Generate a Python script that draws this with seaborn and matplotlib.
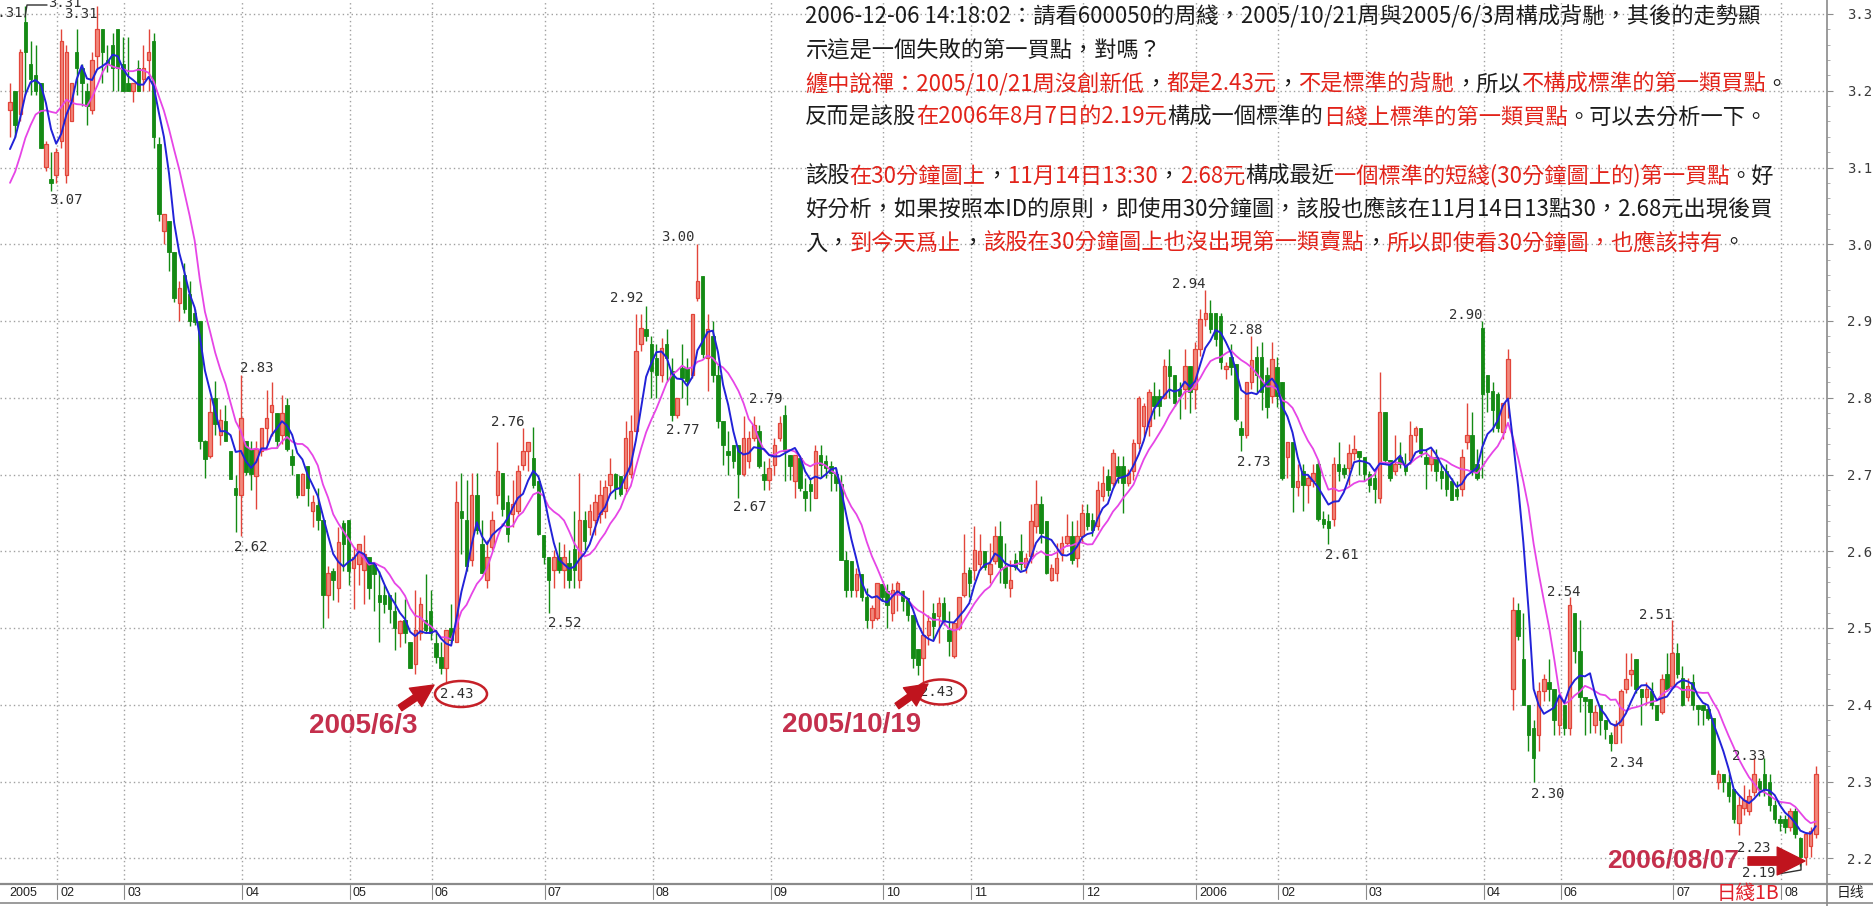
#600050 daily candlestick chart (2005-01 .. 2006-08) with MA5 / MA10 and annotation text
import numpy as np
import pandas as pd
import matplotlib
matplotlib.use("Agg")
import matplotlib.pyplot as plt
import seaborn as sns
from matplotlib.patches import Ellipse
from matplotlib.lines import Line2D
from matplotlib.ticker import MultipleLocator, FormatStrFormatter

# ---------------- data ----------------
opens = [3.175, 3.20, 3.17, 3.29, 3.235, 3.22, 3.21, 3.10, 3.085, 3.09,
         3.135, 3.09, 3.16, 3.25, 3.23, 3.20, 3.175, 3.245, 3.28, 3.24,
         3.26, 3.28, 3.235, 3.21, 3.20, 3.23, 3.215, 3.24, 3.265, 3.13,
         3.017, 3.03, 2.99, 2.924, 2.96, 2.935, 2.91, 2.90, 2.743, 2.724,
         2.80, 2.752, 2.77, 2.731, 2.682, 2.673, 2.743, 2.733, 2.698, 2.731,
         2.761, 2.782, 2.78, 2.752, 2.79, 2.724, 2.70, 2.673, 2.711, 2.652,
         2.66, 2.641, 2.543, 2.574, 2.552, 2.637, 2.641, 2.578, 2.583, 2.576,
         2.592, 2.583, 2.543, 2.543, 2.543, 2.522, 2.493, 2.511, 2.482, 2.453,
         2.493, 2.511, 2.522, 2.48, 2.462, 2.448, 2.50, 2.482, 2.652, 2.641,
         2.588, 2.673, 2.61, 2.563, 2.605, 2.673, 2.702, 2.664, 2.648, 2.653,
         2.713, 2.731, 2.722, 2.691, 2.621, 2.592, 2.576, 2.592, 2.576, 2.585,
         2.603, 2.563, 2.641, 2.632, 2.641, 2.648, 2.652, 2.686, 2.70, 2.698,
         2.683, 2.70, 2.757, 2.87, 2.889, 2.87, 2.852, 2.83, 2.87, 2.835,
         2.778, 2.839, 2.839, 2.83, 2.93, 2.959, 2.852, 2.88, 2.83, 2.77,
         2.73, 2.739, 2.739, 2.70, 2.717, 2.748, 2.757, 2.70, 2.693, 2.713,
         2.748, 2.778, 2.726, 2.691, 2.722, 2.678, 2.687, 2.67, 2.726, 2.717,
         2.711, 2.70, 2.687, 2.589, 2.587, 2.55, 2.57, 2.541, 2.511, 2.513,
         2.557, 2.548, 2.52, 2.548, 2.548, 2.539, 2.517, 2.472, 2.461, 2.491,
         2.52, 2.515, 2.533, 2.498, 2.463, 2.50, 2.543, 2.576, 2.576, 2.584,
         2.60, 2.57, 2.587, 2.62, 2.58, 2.552, 2.589, 2.60, 2.58, 2.594,
         2.633, 2.661, 2.639, 2.563, 2.572, 2.598, 2.611, 2.62, 2.591, 2.62,
         2.65, 2.641, 2.633, 2.672, 2.698, 2.689, 2.711, 2.711, 2.689, 2.705,
         2.741, 2.763, 2.763, 2.802, 2.802, 2.80, 2.841, 2.83, 2.811, 2.811,
         2.841, 2.811, 2.863, 2.902, 2.911, 2.911, 2.907, 2.837, 2.853, 2.844,
         2.76, 2.751, 2.821, 2.853, 2.853, 2.83, 2.802, 2.84, 2.821, 2.723,
         2.742, 2.684, 2.705, 2.686, 2.691, 2.714, 2.642, 2.64, 2.642, 2.714,
         2.709, 2.709, 2.728, 2.73, 2.723, 2.70, 2.695, 2.67, 2.781, 2.719,
         2.705, 2.723, 2.714, 2.719, 2.751, 2.76, 2.723, 2.714, 2.723, 2.705,
         2.705, 2.691, 2.681, 2.681, 2.742, 2.751, 2.714, 2.891, 2.83, 2.809,
         2.805, 2.756, 2.80, 2.421, 2.523, 2.46, 2.40, 2.37, 2.36, 2.418,
         2.43, 2.42, 2.373, 2.40, 2.37, 2.52, 2.47, 2.41, 2.408, 2.373,
         2.40, 2.38, 2.36, 2.35, 2.373, 2.42, 2.44, 2.46, 2.42, 2.41,
         2.418, 2.40, 2.39, 2.44, 2.425, 2.468, 2.435, 2.41, 2.43, 2.40,
         2.40, 2.395, 2.383, 2.30, 2.31, 2.30, 2.29, 2.246, 2.266, 2.261,
         2.286, 2.30, 2.31, 2.30, 2.27, 2.251, 2.251, 2.241, 2.261, 2.226,
         2.201, 2.216, 2.231]

highs = [3.21, 3.20, 3.255, 3.31, 3.265, 3.26, 3.21, 3.135, 3.12, 3.125,
         3.28, 3.26, 3.21, 3.28, 3.235, 3.21, 3.25, 3.31, 3.28, 3.26,
         3.275, 3.28, 3.27, 3.27, 3.21, 3.24, 3.26, 3.28, 3.275, 3.14,
         3.04, 3.03, 2.99, 2.952, 2.975, 2.952, 2.915, 2.90, 2.745, 2.80,
         2.822, 2.785, 2.79, 2.731, 2.70, 2.83, 2.743, 2.743, 2.743, 2.761,
         2.81, 2.82, 2.78, 2.803, 2.80, 2.733, 2.70, 2.702, 2.711, 2.673,
         2.682, 2.641, 2.581, 2.578, 2.632, 2.641, 2.641, 2.605, 2.61, 2.621,
         2.592, 2.583, 2.574, 2.556, 2.543, 2.547, 2.511, 2.538, 2.482, 2.549,
         2.54, 2.57, 2.549, 2.498, 2.482, 2.498, 2.531, 2.691, 2.702, 2.693,
         2.702, 2.702, 2.641, 2.615, 2.652, 2.742, 2.702, 2.673, 2.693, 2.713,
         2.76, 2.742, 2.762, 2.691, 2.621, 2.592, 2.601, 2.612, 2.61, 2.601,
         2.652, 2.702, 2.652, 2.661, 2.675, 2.693, 2.693, 2.722, 2.702, 2.698,
         2.77, 2.778, 2.909, 2.909, 2.92, 2.88, 2.87, 2.878, 2.889, 2.852,
         2.80, 2.87, 2.852, 2.909, 3.00, 2.959, 2.909, 2.90, 2.843, 2.77,
         2.757, 2.739, 2.739, 2.776, 2.757, 2.776, 2.765, 2.717, 2.722, 2.748,
         2.776, 2.79, 2.726, 2.726, 2.722, 2.696, 2.696, 2.739, 2.739, 2.726,
         2.717, 2.709, 2.70, 2.60, 2.587, 2.578, 2.57, 2.552, 2.53, 2.559,
         2.557, 2.557, 2.559, 2.561, 2.548, 2.539, 2.517, 2.472, 2.55, 2.517,
         2.533, 2.541, 2.541, 2.522, 2.507, 2.541, 2.622, 2.58, 2.633, 2.622,
         2.60, 2.611, 2.633, 2.639, 2.611, 2.589, 2.598, 2.622, 2.598, 2.661,
         2.693, 2.672, 2.639, 2.583, 2.611, 2.62, 2.648, 2.639, 2.641, 2.661,
         2.661, 2.65, 2.691, 2.711, 2.707, 2.733, 2.724, 2.724, 2.707, 2.746,
         2.802, 2.793, 2.811, 2.82, 2.811, 2.85, 2.863, 2.83, 2.82, 2.863,
         2.841, 2.872, 2.915, 2.94, 2.928, 2.911, 2.911, 2.846, 2.87, 2.844,
         2.77, 2.821, 2.88, 2.867, 2.872, 2.84, 2.872, 2.853, 2.821, 2.742,
         2.742, 2.714, 2.714, 2.70, 2.714, 2.719, 2.653, 2.649, 2.723, 2.742,
         2.714, 2.74, 2.751, 2.73, 2.723, 2.705, 2.705, 2.833, 2.781, 2.719,
         2.751, 2.742, 2.728, 2.77, 2.763, 2.76, 2.733, 2.733, 2.733, 2.714,
         2.714, 2.695, 2.691, 2.733, 2.793, 2.781, 2.733, 2.90, 2.83, 2.821,
         2.807, 2.793, 2.863, 2.54, 2.533, 2.52, 2.40, 2.38, 2.43, 2.44,
         2.46, 2.42, 2.415, 2.40, 2.54, 2.52, 2.51, 2.41, 2.408, 2.40,
         2.40, 2.38, 2.365, 2.38, 2.42, 2.468, 2.468, 2.46, 2.42, 2.43,
         2.43, 2.40, 2.44, 2.468, 2.51, 2.48, 2.45, 2.435, 2.44, 2.40,
         2.40, 2.40, 2.383, 2.315, 2.31, 2.31, 2.29, 2.281, 2.296, 2.29,
         2.33, 2.305, 2.33, 2.31, 2.276, 2.256, 2.256, 2.266, 2.266, 2.228,
         2.231, 2.241, 2.32]

lows = [3.14, 3.14, 3.16, 3.195, 3.195, 3.195, 3.125, 3.095, 3.07, 3.08,
        3.125, 3.08, 3.16, 3.195, 3.18, 3.155, 3.17, 3.23, 3.21, 3.225,
        3.20, 3.20, 3.20, 3.20, 3.185, 3.20, 3.20, 3.20, 3.125, 3.03,
        3.00, 2.965, 2.925, 2.90, 2.91, 2.894, 2.895, 2.733, 2.695, 2.722,
        2.752, 2.738, 2.743, 2.694, 2.625, 2.62, 2.70, 2.68, 2.655, 2.724,
        2.738, 2.75, 2.735, 2.74, 2.73, 2.70, 2.67, 2.673, 2.659, 2.632,
        2.628, 2.50, 2.513, 2.536, 2.534, 2.574, 2.556, 2.525, 2.556, 2.531,
        2.538, 2.522, 2.482, 2.52, 2.507, 2.471, 2.475, 2.48, 2.448, 2.44,
        2.484, 2.493, 2.484, 2.455, 2.44, 2.43, 2.48, 2.482, 2.596, 2.574,
        2.581, 2.623, 2.572, 2.552, 2.601, 2.661, 2.646, 2.612, 2.632, 2.648,
        2.706, 2.704, 2.682, 2.621, 2.583, 2.52, 2.552, 2.572, 2.552, 2.552,
        2.552, 2.552, 2.601, 2.621, 2.621, 2.637, 2.643, 2.673, 2.668, 2.672,
        2.674, 2.696, 2.757, 2.861, 2.874, 2.80, 2.80, 2.82, 2.822, 2.77,
        2.774, 2.80, 2.791, 2.826, 2.926, 2.852, 2.809, 2.82, 2.761, 2.713,
        2.70, 2.709, 2.67, 2.698, 2.709, 2.743, 2.709, 2.68, 2.68, 2.70,
        2.743, 2.691, 2.693, 2.67, 2.678, 2.652, 2.652, 2.67, 2.696, 2.696,
        2.678, 2.678, 2.589, 2.541, 2.541, 2.541, 2.535, 2.50, 2.50, 2.511,
        2.535, 2.50, 2.509, 2.522, 2.522, 2.509, 2.448, 2.439, 2.43, 2.478,
        2.485, 2.48, 2.504, 2.463, 2.461, 2.498, 2.541, 2.541, 2.563, 2.576,
        2.576, 2.559, 2.583, 2.559, 2.552, 2.541, 2.576, 2.576, 2.572, 2.585,
        2.624, 2.611, 2.57, 2.561, 2.561, 2.587, 2.607, 2.583, 2.58, 2.611,
        2.628, 2.62, 2.628, 2.665, 2.672, 2.685, 2.689, 2.65, 2.685, 2.693,
        2.733, 2.75, 2.75, 2.772, 2.776, 2.798, 2.80, 2.789, 2.772, 2.785,
        2.78, 2.785, 2.854, 2.893, 2.885, 2.867, 2.837, 2.824, 2.83, 2.77,
        2.73, 2.747, 2.812, 2.807, 2.784, 2.774, 2.793, 2.788, 2.693, 2.695,
        2.651, 2.672, 2.653, 2.663, 2.684, 2.64, 2.63, 2.61, 2.633, 2.691,
        2.695, 2.686, 2.719, 2.70, 2.691, 2.677, 2.663, 2.663, 2.714, 2.691,
        2.70, 2.709, 2.70, 2.714, 2.742, 2.723, 2.681, 2.705, 2.691, 2.681,
        2.672, 2.667, 2.667, 2.672, 2.733, 2.70, 2.693, 2.695, 2.781, 2.756,
        2.756, 2.746, 2.774, 2.393, 2.485, 2.40, 2.34, 2.30, 2.34, 2.405,
        2.405, 2.36, 2.36, 2.36, 2.36, 2.455, 2.39, 2.36, 2.363, 2.363,
        2.36, 2.355, 2.34, 2.35, 2.35, 2.415, 2.425, 2.415, 2.373, 2.40,
        2.395, 2.38, 2.388, 2.418, 2.425, 2.435, 2.398, 2.405, 2.393, 2.373,
        2.373, 2.38, 2.31, 2.29, 2.286, 2.273, 2.246, 2.23, 2.256, 2.256,
        2.281, 2.281, 2.281, 2.261, 2.246, 2.236, 2.233, 2.236, 2.226, 2.19,
        2.191, 2.201, 2.226]

closes = [3.185, 3.155, 3.25, 3.25, 3.215, 3.20, 3.125, 3.13, 3.08, 3.12,
          3.265, 3.25, 3.21, 3.23, 3.21, 3.18, 3.24, 3.28, 3.25, 3.235,
          3.23, 3.23, 3.20, 3.20, 3.21, 3.20, 3.23, 3.25, 3.14, 3.04,
          3.04, 2.99, 2.93, 2.943, 2.915, 2.90, 2.899, 2.743, 2.72, 2.782,
          2.766, 2.771, 2.743, 2.694, 2.673, 2.773, 2.703, 2.70, 2.733, 2.761,
          2.773, 2.79, 2.743, 2.78, 2.733, 2.712, 2.673, 2.70, 2.682, 2.664,
          2.641, 2.543, 2.572, 2.563, 2.612, 2.61, 2.574, 2.592, 2.61, 2.596,
          2.552, 2.57, 2.534, 2.531, 2.525, 2.50, 2.509, 2.493, 2.448, 2.498,
          2.531, 2.498, 2.493, 2.462, 2.448, 2.498, 2.484, 2.664, 2.643, 2.581,
          2.673, 2.628, 2.572, 2.592, 2.641, 2.704, 2.655, 2.623, 2.661, 2.704,
          2.731, 2.742, 2.686, 2.623, 2.592, 2.563, 2.592, 2.576, 2.592, 2.563,
          2.576, 2.641, 2.614, 2.652, 2.664, 2.673, 2.684, 2.70, 2.682, 2.674,
          2.748, 2.757, 2.861, 2.891, 2.88, 2.835, 2.83, 2.865, 2.852, 2.778,
          2.80, 2.826, 2.822, 2.909, 2.952, 2.857, 2.889, 2.83, 2.77, 2.739,
          2.726, 2.717, 2.70, 2.748, 2.748, 2.765, 2.711, 2.693, 2.709, 2.739,
          2.767, 2.73, 2.711, 2.726, 2.683, 2.67, 2.678, 2.73, 2.713, 2.709,
          2.702, 2.689, 2.589, 2.55, 2.55, 2.57, 2.541, 2.511, 2.526, 2.559,
          2.541, 2.53, 2.55, 2.559, 2.535, 2.517, 2.461, 2.452, 2.491, 2.509,
          2.502, 2.533, 2.511, 2.483, 2.507, 2.541, 2.572, 2.559, 2.602, 2.60,
          2.58, 2.583, 2.62, 2.58, 2.559, 2.563, 2.58, 2.583, 2.591, 2.639,
          2.661, 2.624, 2.572, 2.578, 2.591, 2.611, 2.62, 2.589, 2.62, 2.65,
          2.633, 2.628, 2.68, 2.689, 2.68, 2.728, 2.698, 2.689, 2.702, 2.741,
          2.80, 2.789, 2.807, 2.789, 2.789, 2.841, 2.828, 2.793, 2.802, 2.841,
          2.807, 2.863, 2.902, 2.911, 2.889, 2.876, 2.846, 2.841, 2.84, 2.772,
          2.751, 2.821, 2.849, 2.83, 2.807, 2.788, 2.851, 2.802, 2.695, 2.742,
          2.684, 2.691, 2.686, 2.695, 2.702, 2.642, 2.635, 2.63, 2.714, 2.705,
          2.70, 2.728, 2.733, 2.723, 2.70, 2.686, 2.681, 2.781, 2.719, 2.695,
          2.714, 2.714, 2.705, 2.751, 2.76, 2.728, 2.714, 2.723, 2.705, 2.695,
          2.681, 2.667, 2.672, 2.723, 2.751, 2.705, 2.695, 2.805, 2.807, 2.784,
          2.76, 2.793, 2.851, 2.523, 2.49, 2.40, 2.36, 2.33, 2.418, 2.433,
          2.42, 2.38, 2.41, 2.37, 2.53, 2.47, 2.41, 2.405, 2.39, 2.39,
          2.38, 2.368, 2.35, 2.375, 2.418, 2.433, 2.445, 2.42, 2.41, 2.42,
          2.40, 2.38, 2.433, 2.42, 2.468, 2.44, 2.40, 2.425, 2.40, 2.395,
          2.393, 2.383, 2.31, 2.31, 2.30, 2.281, 2.251, 2.27, 2.276, 2.281,
          2.31, 2.29, 2.29, 2.27, 2.251, 2.246, 2.241, 2.261, 2.231, 2.201,
          2.231, 2.236, 2.31]

# closes of the days just before the visible window (only feed the averages)
warmup_closes = [3.01, 3.04, 3.02, 3.05, 3.06, 3.08, 3.12, 3.10, 3.135]

month_labels = ["2005", "02", "03", "04", "05", "06", "07", "08", "09", "10",
                "11", "12", "2006", "02", "03", "04", "06", "07", "08"]
month_starts = [0, 10, 23, 46, 67, 83, 105, 126, 149, 171,
                188, 210, 232, 248, 265, 288, 303, 325, 346]

# turning-point price marks: text, candle position, price position
price_marks = [("3.07", 10.9, 3.058), ("3.31", 13.8, 3.300), ("3.31", 10.7, 3.314),
               ("2.83", 48.1, 2.839), ("2.62", 47.0, 2.606), ("2.43", 87.1, 2.414),
               ("2.76", 97.1, 2.768), ("2.52", 108.2, 2.507), ("2.92", 120.3, 2.930),
               ("3.00", 130.2, 3.009), ("2.77", 131.2, 2.758), ("2.79", 147.4, 2.798),
               ("2.67", 144.2, 2.658), ("2.43", 180.7, 2.417), ("2.94", 229.8, 2.948),
               ("2.88", 240.9, 2.888), ("2.73", 242.5, 2.716), ("2.61", 259.6, 2.595),
               ("2.90", 283.8, 2.908), ("2.54", 302.9, 2.547), ("2.30", 299.8, 2.284),
               ("2.51", 320.9, 2.517), ("2.34", 315.2, 2.324), ("2.33", 339.0, 2.333),
               ("2.23", 340.0, 2.213), ("2.19", 340.9, 2.181)]

# ---------------- layout helpers ----------------
W, H = 1874, 906
STEP, X0 = 5.13, 10.0          # candle spacing / first candle, in pixels


def px_i(px):
    return (px - X0) / STEP


def py_p(py):
    return 3.30 - (py - 14) / 767.5


sns.set_style("white")
plt.rcParams['font.family'] = ['Noto Sans CJK TC', 'DejaVu Sans']

fig = plt.figure(figsize=(W / 100, H / 100), dpi=100)
fig.patch.set_facecolor('white')
ax = fig.add_axes([0, (H - 884) / H, 1827 / W, 884 / H])
ax.set_xlim(px_i(0), px_i(1827))
ax.set_ylim(py_p(884), py_p(0))
for s in ax.spines.values():
    s.set_visible(False)

n = min(len(opens), len(highs), len(lows), len(closes))
o = np.array(opens[:n]); c = np.array(closes[:n])
hi = np.maximum(np.array(highs[:n]), np.maximum(o, c))
lo = np.minimum(np.array(lows[:n]), np.minimum(o, c))
idx = np.arange(n)

# grid: price levels and month boundaries
grid_x = [s - 0.75 for s in month_starts[1:]]
ax.set_xticks(grid_x)
ax.set_yticks(np.round(np.arange(2.2, 3.31, 0.1), 2))
ax.yaxis.set_minor_locator(MultipleLocator(0.02))
ax.yaxis.tick_right()
ax.yaxis.set_major_formatter(FormatStrFormatter('%.2f'))
ax.tick_params(axis='x', length=0, labelbottom=False)
ax.tick_params(axis='y', which='major', length=4.3, color='#8c8c8c', pad=10,
               labelsize=10, labelcolor='#3a3a3a')
ax.tick_params(axis='y', which='minor', length=2.2, color='#a0a0a0')
for lbl in ax.get_yticklabels():
    lbl.set_family('DejaVu Sans Mono')
ax.grid(True, which='major', color='#a0a0a0', linestyle=(0, (1, 2.2)), linewidth=1.0)
ax.set_axisbelow(True)

# candles
RED_EDGE, RED_FILL, GREEN = '#e2453a', '#f2887c', '#148a14'
up = c >= o
dn = ~up
ax.vlines(idx[up], lo[up], hi[up], color=RED_EDGE, lw=1.0, zorder=3)
ax.vlines(idx[dn], lo[dn], hi[dn], color=GREEN, lw=1.0, zorder=3)
body = np.maximum(np.abs(c - o), 0.002)
ax.bar(idx[up], body[up], bottom=np.minimum(o, c)[up], width=0.68,
       facecolor=RED_FILL, edgecolor=RED_EDGE, linewidth=0.9, zorder=4)
ax.bar(idx[dn], body[dn], bottom=np.minimum(o, c)[dn], width=0.68,
       facecolor=GREEN, edgecolor=GREEN, linewidth=0.6, zorder=4)

# moving averages
allc = pd.Series(warmup_closes + list(c))
k = len(warmup_closes)
ma = pd.DataFrame({'i': idx,
                   'ma5': allc.rolling(5).mean().values[k:],
                   'ma10': allc.rolling(10).mean().values[k:]})
sns.lineplot(data=ma, x='i', y='ma10', color='#e645e6', linewidth=1.3, ax=ax, zorder=5)
sns.lineplot(data=ma, x='i', y='ma5', color='#2222d8', linewidth=1.4, ax=ax, zorder=6)
ax.set_xlabel(''); ax.set_ylabel('')

# price marks
for txt, xi, pv in price_marks:
    ax.text(xi, pv, txt, ha='center', va='center', fontsize=10,
            family='DejaVu Sans Mono', color='#303030', zorder=7)
ax.text(px_i(23), py_p(13), "3.31", ha='right', va='center', fontsize=10,
        family='DejaVu Sans Mono', color='#303030', zorder=7, clip_on=False)
ax.plot([px_i(25), px_i(27), px_i(47)], [py_p(17), py_p(5), py_p(5)],
        color='#303030', lw=1, zorder=7, clip_on=False)
ax.plot([px_i(1778), px_i(1801), px_i(1801)], [py_p(874), py_p(870), py_p(862)],
        color='#303030', lw=1, zorder=7, clip_on=False)

# circled lows
CIRC = '#c62028'
ax.add_patch(Ellipse((px_i(461), py_p(694)), 52 / STEP, 26 / 767.5,
                     fill=False, edgecolor=CIRC, lw=1.8, zorder=8))
ax.add_patch(Ellipse((px_i(941), py_p(692)), 50 / STEP, 25 / 767.5,
                     fill=False, edgecolor=CIRC, lw=1.8, zorder=8))


def arrow(tail, head, scale):
    ax.annotate("", xy=(head[0], H - head[1]), xytext=(tail[0], H - tail[1]),
                xycoords='figure pixels', textcoords='figure pixels',
                arrowprops=dict(arrowstyle='simple,head_length=1.0,head_width=1.0,tail_width=0.3',
                                color='#c0141e', mutation_scale=scale,
                                shrinkA=0, shrinkB=0), zorder=9)


arrow((400, 708), (434, 685), 16)
arrow((897, 706), (928, 684), 16)
arrow((1748, 861), (1805, 861), 20)

DATE_RED = '#c42f4c'
fig.text(363 / W, 1 - 726 / H, "2005/6/3", ha='center', va='center', fontsize=20,
         weight='bold', family='Liberation Sans', color=DATE_RED)
fig.text(852 / W, 1 - 725 / H, "2005/10/19", ha='center', va='center', fontsize=20,
         weight='bold', family='Liberation Sans', color=DATE_RED)
fig.text(1673 / W, 1 - 860 / H, "2006/08/07", ha='center', va='center', fontsize=19,
         weight='bold', family='Liberation Sans', color=DATE_RED)

# ---------------- date bar / frame ----------------
for yb, lw in [(884, 1.6), (903, 1.2)]:
    fig.add_artist(Line2D([0, 1], [1 - yb / H] * 2, color='#8a8a8a', lw=lw))
fig.add_artist(Line2D([1827 / W] * 2, [0, 1], color='#8a8a8a', lw=1.2))
for lab, st in zip(month_labels, month_starts):
    tx = X0 + (st - 0.75) * STEP
    if st > 0:
        fig.add_artist(Line2D([tx / W] * 2, [1 - 885 / H, 1 - 899 / H], color='#8a8a8a', lw=0.8))
    fig.text((tx + 3) / W, 1 - 893 / H, lab, ha='left', va='center', fontsize=9,
             family='Liberation Sans', color='#202020')
fig.text(1748 / W, 1 - 893 / H, "日綫1B", ha='center', va='center', fontsize=14,
         color='#e0202a', family=['Noto Sans CJK TC', 'DejaVu Sans'])
fig.text(1850 / W, 1 - 893 / H, "日线", ha='center', va='center', fontsize=10,
         color='#202020', family=['Noto Sans CJK SC', 'DejaVu Sans'])
fig.text(6 / W, 1 - 911 / H, "MA(5,10)  0.000", ha='left', va='center', fontsize=8,
         color='#555555', family='DejaVu Sans')
fig.text(150 / W, 1 - 911 / H, "MA5: 2.24", ha='left', va='center', fontsize=8,
         color='#2222d8', family='DejaVu Sans')
fig.text(215 / W, 1 - 911 / H, "MA10: 2.24", ha='left', va='center', fontsize=8,
         color='#e645e6', family='DejaVu Sans')

# ---------------- commentary text block ----------------
K, R = '#1c1c1c', '#e2231a'
text_lines = [
    [("2006-12-06 14:18:02：請看600050的周綫，2005/10/21周與2005/6/3周構成背馳，其後的走勢顯", K)],
    [("示這是一個失敗的第一買點，對嗎？", K)],
    [("纏中說禪：2005/10/21周沒創新低", R), ("，", K), ("都是2.43元", R), ("，", K),
     ("不是標準的背馳", R), ("，所以", K), ("不構成標準的第一類買點", R), ("。", K)],
    [("反而是該股", K), ("在2006年8月7日的2.19元", R), ("構成一個標準的", K),
     ("日綫上標準的第一類買點", R), ("。可以去分析一下。", K)],
    [("該股", K), ("在30分鐘圖上", R), ("，", K), ("11月14日13:30", R), ("，", K),
     ("2.68元", R), ("構成最近", K), ("一個標準的短綫(30分鐘圖上的)第一買點", R), ("。好", K)],
    [("好分析，如果按照本ID的原則，即使用30分鐘圖，該股也應該在11月14日13點30，2.68元出現後買", K)],
    [("入，", K), ("到今天爲止", R), ("，", K), ("該股在30分鐘圖上也沒出現第一類賣點", R),
     ("，", K), ("所以即使看30分鐘圖，也應該持有", R), ("。", K)],
]
line_y = [17, 51, 84, 117, 176, 209, 243]
renderer = fig.canvas.get_renderer()
for segs, yl in zip(text_lines, line_y):
    x = 805.0
    for txt, col in segs:
        t = fig.text(x / W, 1 - yl / H, txt, ha='left', va='center', fontsize=16,
                     color=col, family=['Noto Sans CJK TC', 'DejaVu Sans'])
        x = t.get_window_extent(renderer=renderer).x1

fig.savefig("out.png", dpi=100, facecolor='white')
